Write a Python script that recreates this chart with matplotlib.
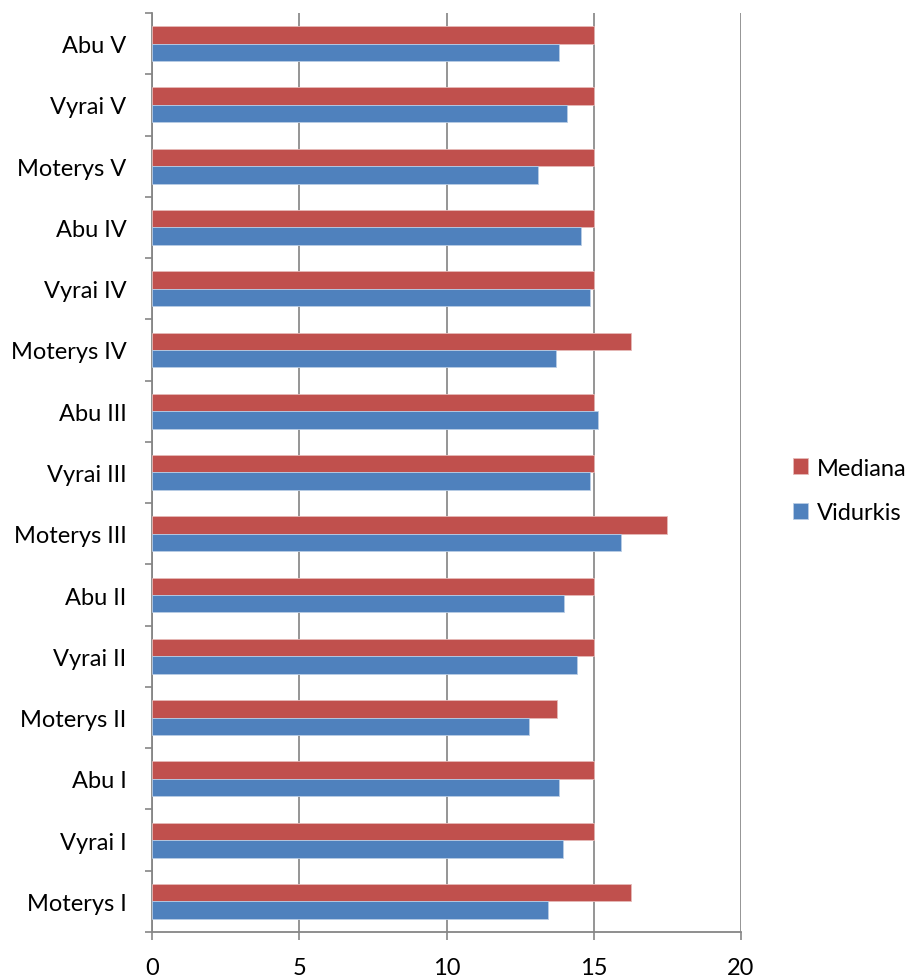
import matplotlib
matplotlib.use("Agg")
import matplotlib.pyplot as plt
import numpy as np

categories = ["Moterys I", "Vyrai I", "Abu I",
              "Moterys II", "Vyrai II", "Abu II",
              "Moterys III", "Vyrai III", "Abu III",
              "Moterys IV", "Vyrai IV", "Abu IV",
              "Moterys V", "Vyrai V", "Abu V"]
mediana = [16.25, 15, 15, 13.75, 15, 15, 17.5, 15, 15, 16.25, 15, 15, 15, 15, 15]
vidurkis = [13.43, 13.97, 13.82, 12.80, 14.43, 13.99, 15.92, 14.88, 15.16,
            13.73, 14.88, 14.57, 13.11, 14.08, 13.82]
x_ticks = [0, 5, 10, 15, 20]

plt.rcParams['font.family'] = ['Lato', 'DejaVu Sans']

fig = plt.figure(figsize=(9.12, 9.79), dpi=100)
ax = fig.add_axes([0.1667, 0.047, 0.6458, 0.9387])

red = "#C0504D"
blue = "#4F81BD"
y = np.arange(len(categories))
h = 0.285

ax.barh(y + h / 2, mediana, height=h, color=red, edgecolor="#E6B9B8",
        linewidth=0.6, label="Mediana", zorder=3)
ax.barh(y - h / 2, vidurkis, height=h, color=blue, edgecolor="#B9CDE5",
        linewidth=0.6, label="Vidurkis", zorder=3)

ax.set_xlim(0, 20)
ax.set_ylim(-0.5, len(categories) - 0.5)
ax.set_xticks(x_ticks)
ax.set_xticklabels([str(t) for t in x_ticks], fontsize=17)
ax.set_yticks(y)
ax.set_yticklabels(categories, fontsize=17)
ax.set_yticks(np.arange(-0.5, len(categories)), minor=True)

ax.tick_params(axis="y", which="major", length=0, pad=18.5)
ax.tick_params(axis="y", which="minor", length=5, width=1.2, color="#868686")
ax.tick_params(axis="x", which="major", length=6, width=1.2, color="#868686",
               direction="out", pad=12)

ax.grid(axis="x", color="#8C8C8C", linewidth=1.3, zorder=0)
ax.set_axisbelow(True)
for s in ["top", "right"]:
    ax.spines[s].set_visible(False)
for s in ["left", "bottom"]:
    ax.spines[s].set_color("#868686")
    ax.spines[s].set_linewidth(1.3)

handles, labels = ax.get_legend_handles_labels()
leg = fig.legend(handles, labels, loc="center left",
                 bbox_to_anchor=(0.859, 0.498), frameon=False, fontsize=17,
                 handlelength=0.65, handleheight=0.65, handletextpad=0.35,
                 labelspacing=1.0, borderaxespad=0)

fig.savefig("out.png", dpi=100)
